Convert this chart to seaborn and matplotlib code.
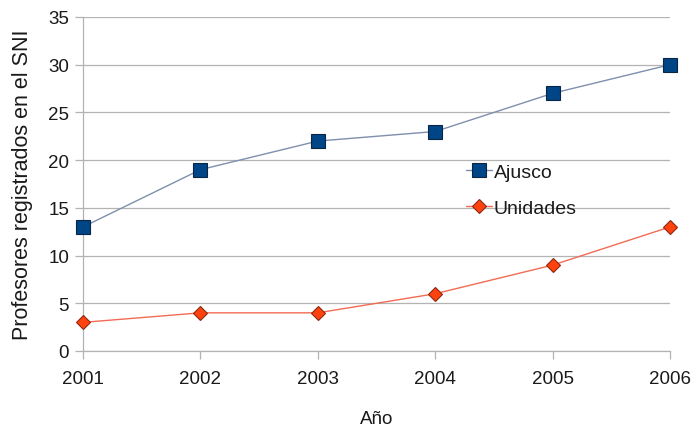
import matplotlib
matplotlib.use("Agg")
import matplotlib.pyplot as plt
import seaborn as sns
import pandas as pd

years = [2001, 2002, 2003, 2004, 2005, 2006]
ajusco = [13, 19, 22, 23, 27, 30]
unidades = [3, 4, 4, 6, 9, 13]
series_names = ["Ajusco", "Unidades"]
y_ticks = [0, 5, 10, 15, 20, 25, 30, 35]

df = pd.DataFrame({"Año": years * 2,
                   "valor": ajusco + unidades,
                   "serie": [series_names[0]] * len(years) + [series_names[1]] * len(years)})

sns.set_theme(style="white")
plt.rcParams['font.family'] = ['Liberation Sans', 'DejaVu Sans']

fig = plt.figure(figsize=(6.95, 4.27), dpi=100)
ax = fig.add_axes([83/695, 1 - 352/427, (670-83)/695, (352-18)/427])

line_colors = {"Ajusco": "#7f8fad", "Unidades": "#f26b55"}
marker_face = {"Ajusco": "#004586", "Unidades": "#ff420e"}
marker_edge = {"Ajusco": "#0a2545", "Unidades": "#8a2a10"}
markers = {"Ajusco": "s", "Unidades": "D"}
sizes = {"Ajusco": 9.5, "Unidades": 7.5}

for name in series_names:
    sub = df[df["serie"] == name]
    sns.lineplot(data=sub, x="Año", y="valor", ax=ax, color=line_colors[name],
                 linewidth=1.0, marker=markers[name], markersize=sizes[name],
                 markerfacecolor=marker_face[name], markeredgecolor=marker_edge[name],
                 markeredgewidth=0.8, label=name, zorder=3, clip_on=False)

ax.set_xlim(years[0], years[-1])
ax.set_ylim(0, 35)
ax.set_yticks(y_ticks)
ax.set_xticks(years)
ax.set_xticklabels([str(y) for y in years])
ax.grid(axis="y", color="#b3b3b3", linewidth=0.9)
ax.grid(axis="x", visible=False)
for s in ["top", "right"]:
    ax.spines[s].set_visible(False)
for s in ["left", "bottom"]:
    ax.spines[s].set_color("#b3b3b3")
    ax.spines[s].set_linewidth(0.9)
ax.tick_params(axis="both", which="major", length=6, width=0.9, color="#b3b3b3",
               labelsize=13.5, labelcolor="#1a1a1a", direction="out", left=True, bottom=True)
ax.tick_params(axis="x", pad=8)
ax.tick_params(axis="y", pad=4)
ax.set_xlabel("Año", fontsize=13.5, color="#1a1a1a", labelpad=16)
ax.set_ylabel("Profesores registrados en el SNI", fontsize=15.5, color="#1a1a1a", labelpad=11)

leg = ax.legend(loc="upper left", bbox_to_anchor=(0.64, 0.585), frameon=False,
                fontsize=14, handlelength=1.3, handletextpad=0.1, labelspacing=0.95,
                borderaxespad=0)
for t in leg.get_texts():
    t.set_color("#1a1a1a")

fig.savefig("out.png", dpi=100)
